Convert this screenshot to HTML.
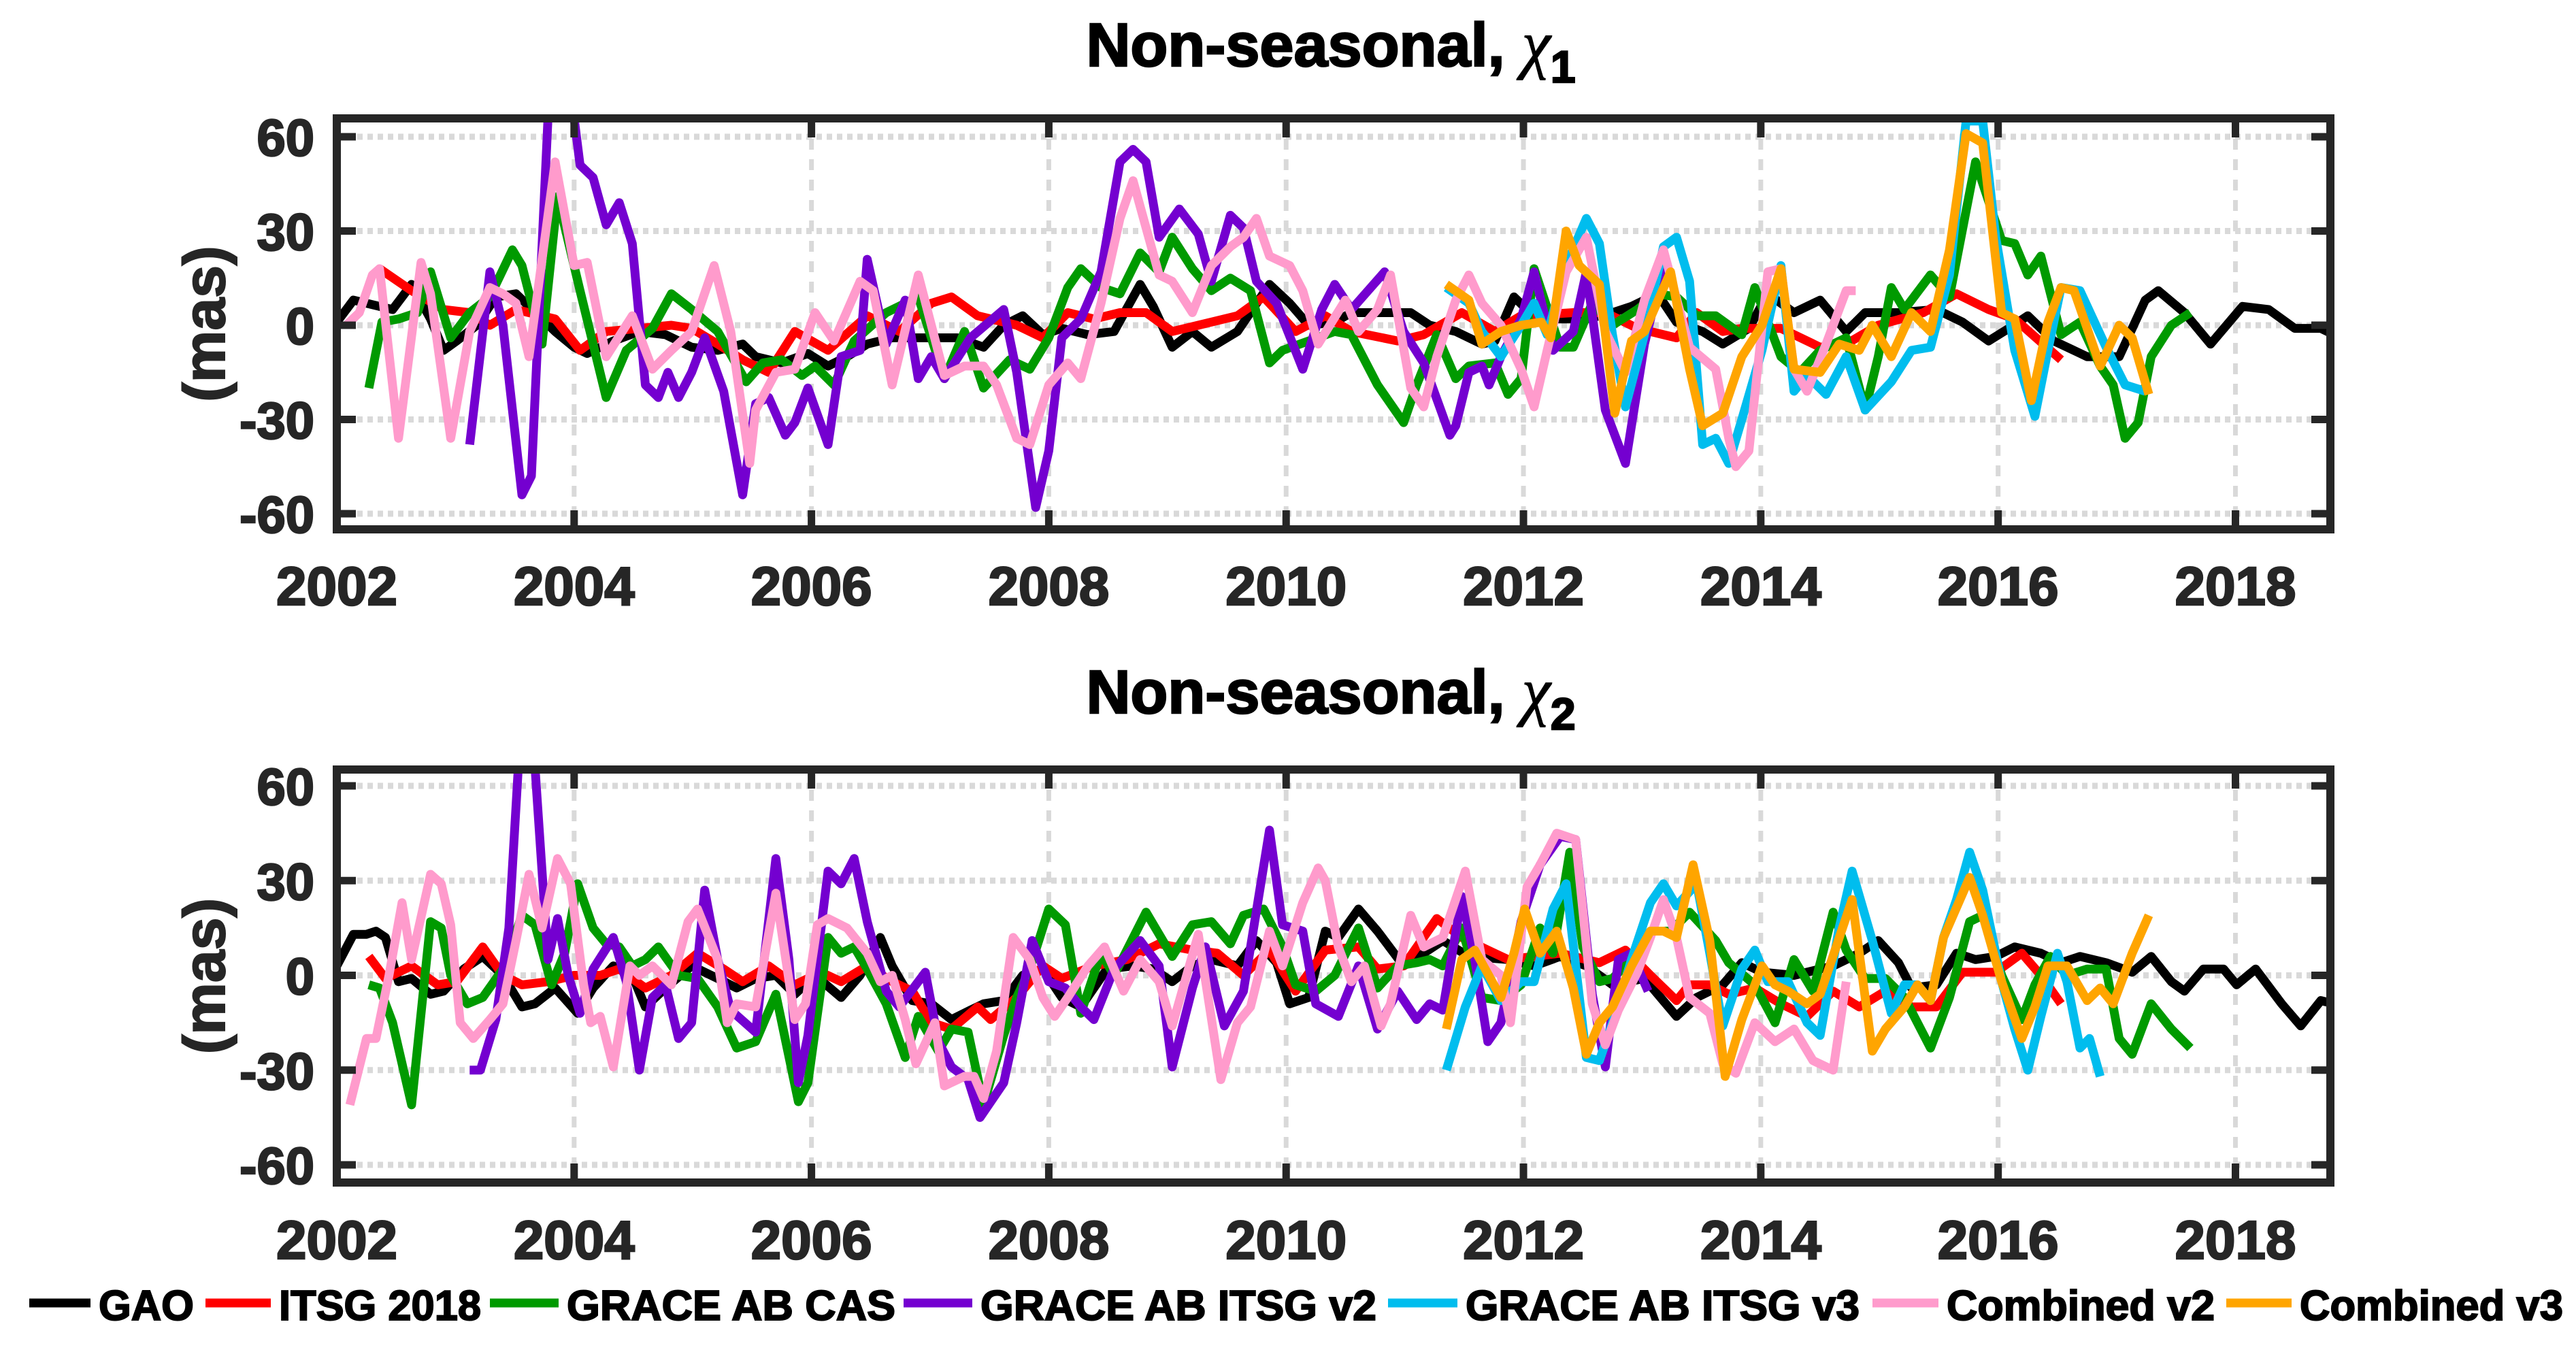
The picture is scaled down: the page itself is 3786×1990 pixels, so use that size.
<!DOCTYPE html>
<html><head><meta charset="utf-8"><style>
html,body{margin:0;padding:0;background:#fff;}
svg{display:block;font-family:"Liberation Sans",Arial,sans-serif;}
</style></head><body>
<svg id="fig" width="3786" height="1990" viewBox="0 0 3786 1990" xmlns="http://www.w3.org/2000/svg">
<defs>
<clipPath id="clip1"><rect x="495" y="174" width="2930" height="604"/></clipPath>
<clipPath id="clip2"><rect x="495" y="1131" width="2930" height="607"/></clipPath>
</defs>
<text x="1956" y="97" text-anchor="middle" font-size="90" font-weight="bold" fill="#000" stroke="#000" stroke-width="2.5">Non-seasonal, <tspan font-family="Liberation Serif" font-style="italic" font-weight="normal" font-size="96" stroke-width="1">χ</tspan><tspan font-size="66" dy="24">1</tspan></text>
<text x="1956" y="1048" text-anchor="middle" font-size="90" font-weight="bold" fill="#000" stroke="#000" stroke-width="2.5">Non-seasonal, <tspan font-family="Liberation Serif" font-style="italic" font-weight="normal" font-size="96" stroke-width="1">χ</tspan><tspan font-size="66" dy="24">2</tspan></text>
<g id="p1"></g>
<g id="p2"></g>
<g id="legend"></g>
</svg>
<script>
const xTicks = [2002,2004,2006,2008,2010,2012,2014,2016,2018];
const yTicks = [-60,-30,0,30,60];
const seriesNames = ["GAO","ITSG 2018","GRACE AB CAS","GRACE AB ITSG v2","GRACE AB ITSG v3","Combined v2","Combined v3"];
const seriesColors = ["#000000","#ff0000","#009a00","#7400d0","#00bdee","#ff9bcc","#ffa500"];

const gao1 = [[2002.0,1],[2002.14,8],[2002.47,5],[2002.63,13],[2002.79,2],[2002.9,-8],[2003.01,-5],[2003.18,0],[2003.34,9],[2003.51,10],[2003.73,2],[2003.84,-2],[2004.0,-7],[2004.11,-9],[2004.33,-5],[2004.55,-2],[2004.77,-3],[2004.99,-7],[2005.21,-8],[2005.42,-6],[2005.53,-10],[2005.75,-12],[2005.97,-9],[2006.14,-13],[2006.3,-10],[2006.47,-6],[2006.68,-4],[2006.96,-4],[2007.23,-4],[2007.45,-7],[2007.62,0],[2007.78,3],[2007.95,-3],[2008.11,-1],[2008.33,-3],[2008.55,-2],[2008.77,13],[2008.88,6],[2009.04,-7],[2009.21,-2],[2009.37,-7],[2009.59,-2],[2009.86,13],[2010.03,7],[2010.19,0],[2010.41,1],[2010.55,4],[2010.88,4],[2011.05,4],[2011.21,0],[2011.43,-2],[2011.65,-6],[2011.76,-5],[2011.92,9],[2012.03,5],[2012.2,2],[2012.42,2],[2012.53,2],[2012.75,4],[2012.91,6],[2013.13,10],[2013.29,1],[2013.51,-2],[2013.68,-6],[2013.9,-1],[2014.06,10],[2014.28,4],[2014.5,8],[2014.72,-2],[2014.88,4],[2015.16,4],[2015.48,5],[2015.7,1],[2015.92,-5],[2016.09,-1],[2016.25,3],[2016.47,-5],[2016.75,-10],[2017.02,-10],[2017.24,8],[2017.35,11],[2017.57,4],[2017.79,-6],[2018.06,6],[2018.28,5],[2018.5,-1],[2018.72,-1],[2018.83,-3]];
const itsg1 = [[2002.36,18],[2002.63,11],[2002.9,5],[2003.12,4],[2003.29,0],[2003.51,5],[2003.84,2],[2004.05,-8],[2004.27,-2],[2004.55,-1],[2004.82,0],[2004.99,-1],[2005.21,-6],[2005.42,-11],[2005.64,-15],[2005.86,-2],[2006.14,-8],[2006.47,3],[2006.74,-2],[2007.01,7],[2007.18,9],[2007.4,3],[2007.73,0],[2007.95,-4],[2008.16,4],[2008.38,2],[2008.6,4],[2008.82,4],[2009.04,-2],[2009.26,0],[2009.59,3],[2009.81,9],[2010.08,-2],[2010.33,3],[2010.55,-2],[2010.94,-5],[2011.16,-3],[2011.48,4],[2011.76,-2],[2011.98,3],[2012.42,4],[2012.69,4],[2012.96,-1],[2013.29,-4],[2013.46,4],[2013.68,-2],[2013.84,-1],[2014.17,-1],[2014.5,-7],[2014.72,-6],[2014.99,0],[2015.37,4],[2015.65,10],[2015.92,5],[2016.14,2],[2016.53,-11]];
const cas1 = [[2002.27,-20],[2002.38,1],[2002.52,2],[2002.68,4],[2002.79,17],[2002.96,-4],[2003.12,4],[2003.29,9],[2003.48,24],[2003.56,19],[2003.73,-6],[2003.86,41],[2004.05,11],[2004.27,-23],[2004.44,-8],[2004.66,-1],[2004.82,10],[2004.99,5],[2005.21,-2],[2005.45,-18],[2005.59,-12],[2005.75,-11],[2005.92,-16],[2006.03,-13],[2006.19,-19],[2006.36,-5],[2006.63,4],[2006.9,9],[2007.01,-4],[2007.12,-17],[2007.29,-2],[2007.45,-20],[2007.67,-11],[2007.84,-14],[2008.0,-4],[2008.16,12],[2008.27,18],[2008.44,12],[2008.6,10],[2008.77,23],[2008.93,17],[2009.04,28],[2009.21,18],[2009.37,11],[2009.53,15],[2009.7,11],[2009.86,-12],[2009.97,-8],[2010.19,-5],[2010.41,-2],[2010.55,-3],[2010.77,-19],[2010.99,-31],[2011.1,-19],[2011.27,-3],[2011.43,-17],[2011.54,-13],[2011.76,-12],[2011.87,-22],[2011.98,-17],[2012.09,18],[2012.31,-7],[2012.42,-7],[2012.58,7],[2012.75,0],[2012.96,5],[2013.13,10],[2013.29,9],[2013.46,3],[2013.62,3],[2013.84,-3],[2013.95,12],[2014.17,-10],[2014.33,-15],[2014.5,-8],[2014.72,-4],[2014.88,-27],[2014.99,-10],[2015.1,12],[2015.21,5],[2015.43,16],[2015.59,9],[2015.81,52],[2016.03,27],[2016.14,26],[2016.25,16],[2016.36,22],[2016.53,-3],[2016.69,1],[2016.86,-13],[2016.97,-19],[2017.07,-36],[2017.18,-31],[2017.29,-10],[2017.46,0],[2017.62,4]];
const v2a1 = [[2003.12,-38],[2003.29,17],[2003.4,0],[2003.56,-54],[2003.64,-48],[2003.78,66],[2004.0,66],[2004.05,51],[2004.16,47],[2004.27,32],[2004.38,39],[2004.49,26],[2004.6,-19],[2004.71,-23],[2004.79,-15],[2004.88,-23],[2004.99,-15],[2005.1,-4],[2005.26,-21],[2005.42,-54],[2005.53,-25],[2005.64,-23],[2005.78,-35],[2005.86,-31],[2005.97,-20],[2006.14,-38],[2006.25,-10],[2006.41,-8],[2006.47,21],[2006.63,-6],[2006.79,8],[2006.9,-17],[2007.01,-10],[2007.12,-17],[2007.34,-4],[2007.62,5],[2007.73,-15],[2007.89,-58],[2008.0,-40],[2008.11,-4],[2008.27,2],[2008.44,17],[2008.6,52],[2008.71,56],[2008.82,52],[2008.93,28],[2009.1,37],[2009.26,29],[2009.37,14],[2009.53,35],[2009.64,31],[2009.75,14],[2009.92,7],[2010.14,-14],[2010.3,5],[2010.41,13],[2010.55,5],[2010.83,17],[2010.99,-2],[2011.16,-12],[2011.38,-35],[2011.43,-32],[2011.54,-15],[2011.65,-13],[2011.71,-19],[2011.81,-10],[2011.98,2],[2012.09,17],[2012.25,-8],[2012.42,-2],[2012.53,17],[2012.69,-27],[2012.86,-44],[2013.02,-6],[2013.18,19]];
const v3a1 = [[2011.35,12],[2011.54,7],[2011.65,-2],[2011.81,-10],[2011.98,0],[2012.09,7],[2012.2,-3],[2012.36,19],[2012.53,34],[2012.64,26],[2012.75,-3],[2012.86,-26],[2013.02,-3],[2013.18,25],[2013.29,28],[2013.4,14],[2013.51,-38],[2013.62,-36],[2013.73,-44],[2013.84,-30],[2014.01,-8],[2014.17,19],[2014.28,-21],[2014.39,-16],[2014.55,-22],[2014.72,-10],[2014.88,-27],[2015.1,-18],[2015.27,-8],[2015.43,-7],[2015.59,16],[2015.73,65],[2015.87,65],[2015.98,28],[2016.14,-8],[2016.31,-29],[2016.42,-8],[2016.53,12],[2016.69,11],[2016.91,-7],[2017.07,-19],[2017.24,-21]];
const cmb2a1 = [[2002.08,0],[2002.19,4],[2002.3,16],[2002.36,18],[2002.52,-36],[2002.71,20],[2002.79,10],[2002.96,-36],[2003.12,-2],[2003.29,12],[2003.4,10],[2003.51,7],[2003.62,-10],[2003.84,52],[2004.0,19],[2004.11,20],[2004.27,-10],[2004.49,3],[2004.66,-14],[2004.82,-8],[2004.99,-2],[2005.18,19],[2005.32,-2],[2005.48,-44],[2005.53,-27],[2005.7,-15],[2005.86,-14],[2006.03,4],[2006.19,-5],[2006.41,14],[2006.52,11],[2006.68,-19],[2006.9,16],[2007.01,0],[2007.12,-16],[2007.29,-13],[2007.45,-13],[2007.56,-19],[2007.73,-36],[2007.84,-38],[2008.0,-19],[2008.16,-12],[2008.27,-17],[2008.44,7],[2008.6,34],[2008.71,46],[2008.82,31],[2008.93,16],[2009.04,14],[2009.21,4],[2009.37,19],[2009.53,25],[2009.64,28],[2009.75,34],[2009.86,22],[2010.03,19],[2010.14,11],[2010.27,-6],[2010.5,8],[2010.61,-2],[2010.77,5],[2010.88,16],[2011.05,-20],[2011.16,-26],[2011.27,-10],[2011.43,8],[2011.54,16],[2011.65,7],[2011.81,0],[2011.98,-14],[2012.09,-26],[2012.2,-8],[2012.36,17],[2012.53,28],[2012.69,-2],[2012.86,-15],[2013.02,8],[2013.18,24],[2013.4,-7],[2013.62,-14],[2013.73,-36],[2013.79,-45],[2013.9,-40],[2014.06,17],[2014.17,18],[2014.28,-14],[2014.39,-21],[2014.55,-6],[2014.72,11],[2014.8,11]];
const cmb3a1 = [[2011.35,13],[2011.54,8],[2011.65,-6],[2011.81,-2],[2011.98,0],[2012.15,1],[2012.23,-4],[2012.36,30],[2012.47,19],[2012.64,13],[2012.77,-28],[2012.91,-5],[2013.02,-2],[2013.24,17],[2013.4,-14],[2013.51,-32],[2013.68,-28],[2013.84,-10],[2014.01,0],[2014.17,18],[2014.28,-14],[2014.5,-15],[2014.66,-6],[2014.83,-8],[2014.94,0],[2015.1,-10],[2015.27,4],[2015.43,-2],[2015.59,24],[2015.73,61],[2015.87,58],[2016.03,4],[2016.14,2],[2016.28,-24],[2016.42,1],[2016.53,12],[2016.64,11],[2016.86,-13],[2017.02,0],[2017.13,-4],[2017.27,-22]];

const gao2 = [[2002.0,3],[2002.14,13],[2002.25,13],[2002.33,14],[2002.41,12],[2002.52,-2],[2002.63,-1],[2002.79,-6],[2002.9,-5],[2003.07,2],[2003.23,6],[2003.4,0],[2003.56,-10],[2003.67,-9],[2003.84,-4],[2004.03,-12],[2004.16,-4],[2004.33,3],[2004.49,0],[2004.6,-10],[2004.77,-4],[2004.99,3],[2005.21,-1],[2005.37,-4],[2005.53,-1],[2005.7,0],[2005.86,-6],[2006.03,0],[2006.25,-7],[2006.41,0],[2006.58,12],[2006.68,3],[2006.85,-8],[2007.01,-9],[2007.18,-14],[2007.34,-11],[2007.45,-9],[2007.62,-8],[2007.78,0],[2007.95,2],[2008.11,-7],[2008.27,-10],[2008.49,2],[2008.71,3],[2008.88,2],[2009.04,-2],[2009.21,3],[2009.37,5],[2009.59,3],[2009.75,11],[2009.92,4],[2010.03,-9],[2010.19,-7],[2010.33,14],[2010.44,12],[2010.61,21],[2010.77,14],[2010.99,3],[2011.16,7],[2011.32,11],[2011.54,6],[2011.87,5],[2012.09,3],[2012.31,6],[2012.53,3],[2012.75,-3],[2013.02,-1],[2013.29,-13],[2013.46,-7],[2013.68,-3],[2013.84,4],[2014.01,1],[2014.28,0],[2014.61,3],[2014.83,7],[2014.99,11],[2015.16,4],[2015.27,-4],[2015.48,-3],[2015.65,7],[2015.81,5],[2015.98,6],[2016.14,9],[2016.36,7],[2016.53,4],[2016.69,6],[2016.91,4],[2017.13,1],[2017.29,6],[2017.46,-2],[2017.57,-5],[2017.73,2],[2017.9,2],[2018.01,-3],[2018.17,2],[2018.39,-9],[2018.55,-16],[2018.72,-8],[2018.83,-9]];
const itsg2 = [[2002.27,6],[2002.41,-1],[2002.63,3],[2002.85,-3],[2003.01,-2],[2003.23,9],[2003.4,0],[2003.56,-3],[2003.78,-2],[2004.0,0],[2004.22,0],[2004.38,2],[2004.6,-4],[2004.82,0],[2005.04,7],[2005.26,2],[2005.42,-2],[2005.64,3],[2005.86,-3],[2006.08,1],[2006.25,-2],[2006.47,3],[2006.68,-2],[2006.85,-5],[2007.01,-15],[2007.18,-17],[2007.4,-10],[2007.51,-14],[2007.73,-7],[2007.95,3],[2008.11,-1],[2008.38,3],[2008.66,5],[2008.93,10],[2009.21,8],[2009.42,7],[2009.64,0],[2009.86,8],[2010.08,-5],[2010.33,8],[2010.61,9],[2010.77,2],[2010.99,3],[2011.27,18],[2011.48,12],[2011.7,8],[2011.87,5],[2012.09,6],[2012.31,7],[2012.64,4],[2012.86,8],[2013.07,0],[2013.29,-8],[2013.4,-3],[2013.57,-3],[2013.73,-6],[2013.95,-4],[2014.17,-9],[2014.39,-13],[2014.61,-5],[2014.83,-10],[2015.05,-5],[2015.27,-10],[2015.48,-10],[2015.7,1],[2015.98,1],[2016.2,7],[2016.36,0],[2016.53,-9]];
const cas2 = [[2002.27,-3],[2002.36,-4],[2002.47,-15],[2002.63,-41],[2002.79,17],[2002.88,15],[2002.96,0],[2003.1,-9],[2003.23,-7],[2003.4,2],[2003.56,19],[2003.67,16],[2003.81,-3],[2003.92,7],[2004.03,29],[2004.16,15],[2004.27,10],[2004.38,9],[2004.49,3],[2004.6,5],[2004.71,9],[2004.88,0],[2005.04,-1],[2005.21,-10],[2005.37,-23],[2005.53,-21],[2005.7,-6],[2005.89,-40],[2005.97,-34],[2006.14,12],[2006.25,7],[2006.36,9],[2006.47,2],[2006.63,-9],[2006.79,-26],[2006.9,-13],[2007.07,-24],[2007.18,-17],[2007.32,-18],[2007.45,-41],[2007.62,-19],[2007.73,-7],[2007.84,2],[2008.0,21],[2008.14,16],[2008.27,-12],[2008.44,7],[2008.55,0],[2008.82,20],[2009.04,6],[2009.21,16],[2009.37,17],[2009.53,10],[2009.64,19],[2009.81,21],[2009.97,9],[2010.08,-3],[2010.25,-5],[2010.41,0],[2010.61,15],[2010.77,-4],[2010.94,3],[2011.1,4],[2011.21,5],[2011.32,3],[2011.48,15],[2011.65,-7],[2011.81,-8],[2011.98,-3],[2012.14,15],[2012.25,7],[2012.39,39],[2012.5,9],[2012.64,-2],[2012.75,-1],[2012.91,5],[2013.07,14],[2013.24,14],[2013.4,20],[2013.62,11],[2013.73,4],[2013.95,-3],[2014.12,-15],[2014.28,5],[2014.44,-5],[2014.61,20],[2014.72,8],[2014.88,-1],[2015.05,-1],[2015.21,-7],[2015.43,-23],[2015.59,-7],[2015.76,17],[2015.87,19],[2016.03,0],[2016.2,-14],[2016.31,-3],[2016.44,6],[2016.58,0],[2016.75,2],[2016.91,2],[2017.02,-20],[2017.13,-25],[2017.29,-9],[2017.46,-17],[2017.62,-23]];
const v2a2 = [[2003.12,-30],[2003.21,-30],[2003.34,-14],[2003.45,15],[2003.53,66],[2003.67,66],[2003.78,5],[2003.86,18],[2003.95,0],[2004.05,-12],[2004.16,2],[2004.33,12],[2004.44,-2],[2004.55,-30],[2004.66,-7],[2004.77,-3],[2004.88,-20],[2004.99,-15],[2005.1,27],[2005.21,5],[2005.32,-11],[2005.53,-18],[2005.7,37],[2005.81,5],[2005.89,-34],[2005.97,-19],[2006.14,33],[2006.25,29],[2006.36,37],[2006.47,17],[2006.63,-5],[2006.74,-10],[2006.96,1],[2007.07,-21],[2007.18,-29],[2007.32,-33],[2007.42,-45],[2007.62,-34],[2007.73,-15],[2007.86,11],[2008.0,-2],[2008.14,-4],[2008.27,-10],[2008.38,-14],[2008.55,2],[2008.77,11],[2008.93,3],[2009.04,-29],[2009.21,-4],[2009.32,9],[2009.48,-16],[2009.64,-5],[2009.86,46],[2009.97,16],[2010.14,14],[2010.25,-9],[2010.44,-13],[2010.61,3],[2010.77,-17],[2010.94,-5],[2011.1,-14],[2011.21,-9],[2011.32,-11],[2011.48,25],[2011.59,5],[2011.7,-21],[2011.81,-15],[2011.98,17],[2012.14,35],[2012.31,44],[2012.44,43],[2012.58,-6],[2012.69,-29],[2012.8,5],[2012.91,7],[2013.05,-5]];
const v3a2 = [[2011.35,-30],[2011.51,-10],[2011.65,3],[2011.81,-8],[2011.98,-2],[2012.09,-2],[2012.25,21],[2012.36,29],[2012.53,-26],[2012.64,-27],[2012.75,-15],[2012.91,5],[2013.07,23],[2013.18,29],[2013.29,22],[2013.46,29],[2013.57,7],[2013.68,-16],[2013.84,2],[2013.95,8],[2014.06,-2],[2014.23,-2],[2014.39,-15],[2014.5,-19],[2014.66,15],[2014.77,33],[2014.94,11],[2015.1,-12],[2015.21,-3],[2015.32,-3],[2015.43,-8],[2015.54,12],[2015.65,24],[2015.76,39],[2015.87,27],[2016.03,-2],[2016.14,-17],[2016.25,-30],[2016.36,-13],[2016.5,7],[2016.58,-2],[2016.69,-23],[2016.77,-20],[2016.86,-32]];
const cmb2a2 = [[2002.11,-41],[2002.25,-20],[2002.33,-20],[2002.44,0],[2002.55,23],[2002.63,5],[2002.79,32],[2002.88,29],[2002.96,16],[2003.04,-15],[2003.15,-20],[2003.29,-14],[2003.4,-9],[2003.51,11],[2003.62,32],[2003.73,15],[2003.86,37],[2003.97,29],[2004.08,-3],[2004.14,-15],[2004.22,-13],[2004.33,-29],[2004.47,3],[2004.55,0],[2004.66,3],[2004.82,-3],[2004.96,17],[2005.04,21],[2005.21,5],[2005.29,-15],[2005.37,-9],[2005.53,-10],[2005.7,26],[2005.86,-14],[2005.95,-9],[2006.05,16],[2006.14,18],[2006.3,15],[2006.47,7],[2006.58,-2],[2006.68,0],[2006.79,-14],[2006.88,-28],[2007.04,-15],[2007.12,-35],[2007.29,-32],[2007.37,-32],[2007.45,-39],[2007.56,-24],[2007.7,12],[2007.84,5],[2007.95,-7],[2008.05,-13],[2008.16,-7],[2008.33,3],[2008.47,9],[2008.63,-5],[2008.77,5],[2008.93,-2],[2009.04,-16],[2009.26,13],[2009.45,-33],[2009.59,-15],[2009.7,-10],[2009.86,14],[2009.97,3],[2010.14,23],[2010.27,34],[2010.33,30],[2010.44,9],[2010.55,-2],[2010.66,3],[2010.8,-16],[2010.88,-9],[2011.05,19],[2011.16,9],[2011.32,12],[2011.51,33],[2011.65,5],[2011.81,0],[2011.89,-15],[2012.03,28],[2012.14,35],[2012.28,45],[2012.44,43],[2012.58,-9],[2012.69,-22],[2012.8,-11],[2012.96,1],[2013.07,12],[2013.18,24],[2013.29,12],[2013.4,-7],[2013.57,-12],[2013.68,-28],[2013.79,-31],[2013.95,-15],[2014.12,-21],[2014.28,-17],[2014.44,-27],[2014.61,-30],[2014.72,-2]];
const cmb3a2 = [[2011.35,-17],[2011.48,5],[2011.59,8],[2011.81,-7],[2011.92,7],[2012.01,21],[2012.14,7],[2012.28,14],[2012.42,-4],[2012.53,-25],[2012.64,-15],[2012.75,-10],[2012.91,3],[2013.07,14],[2013.18,14],[2013.29,12],[2013.43,35],[2013.57,11],[2013.7,-32],[2013.84,-14],[2014.01,3],[2014.12,-3],[2014.23,-5],[2014.39,-9],[2014.5,-6],[2014.77,24],[2014.94,-24],[2015.05,-17],[2015.21,-10],[2015.32,-3],[2015.43,-8],[2015.54,12],[2015.76,31],[2015.87,19],[2016.03,-2],[2016.2,-20],[2016.31,-10],[2016.42,3],[2016.58,3],[2016.75,-8],[2016.86,-4],[2016.97,-9],[2017.13,7],[2017.27,19]];

const panel1 = [gao1,itsg1,cas1,v2a1,v3a1,cmb2a1,cmb3a1];
const panel2 = [gao2,itsg2,cas2,v2a2,v3a2,cmb2a2,cmb3a2];
const seriesKeys = ["gao","itsg-2018","grace-ab-cas","grace-ab-itsg-v2","grace-ab-itsg-v3","combined-v2","combined-v3"];

const NS = "http://www.w3.org/2000/svg";
const X0 = 495, X1 = 3425, YR0 = 2002, YR1 = 2018.8;
function xs(t){ return X0 + (t - YR0) / (YR1 - YR0) * (X1 - X0); }
function mk(tag, attrs, parent){ const e = document.createElementNS(NS, tag); for (const k in attrs) e.setAttribute(k, attrs[k]); parent.appendChild(e); return e; }

function drawPanel(g, top, bottom, y60, yM60, data, clipId, labelY, pname){
  const ys = v => y60 + (60 - v) / 120 * (yM60 - y60);
  mk('rect', {x:X0, y:top, width:X1-X0, height:bottom-top, fill:'#fff'}, g);
  for (const t of xTicks){
    const l = mk('line', {x1:xs(t), x2:xs(t), y1:top, y2:bottom, stroke:'#d9d9d9', 'stroke-width':7, 'stroke-dasharray':'16 14'}, g);
    
    
  }
  for (const v of yTicks){
    const l = mk('line', {x1:X0, x2:X1, y1:ys(v), y2:ys(v), stroke:'#d9d9d9', 'stroke-width':9, 'stroke-dasharray':'8 7'}, g);
    
    
  }
  const sg = mk('g', {'clip-path':'url(#' + clipId + ')'}, g);
  data.forEach((s, i) => {
    const d = s.map((p, j) => (j ? 'L' : 'M') + xs(p[0]).toFixed(1) + ',' + ys(p[1]).toFixed(1)).join('');
    const path = mk('path', {d:d, fill:'none', stroke:seriesColors[i], 'stroke-width':13, 'stroke-linejoin':'round', 'stroke-linecap':'butt'}, sg);
    
    
  });
  const box = mk('rect', {x:X0, y:top, width:X1-X0, height:bottom-top, fill:'none', stroke:'#262626', 'stroke-width':12}, g);
  
  
  for (const t of xTicks){
    mk('line', {x1:xs(t), x2:xs(t), y1:bottom, y2:bottom-28, stroke:'#262626', 'stroke-width':11}, g);
    mk('line', {x1:xs(t), x2:xs(t), y1:top, y2:top+28, stroke:'#262626', 'stroke-width':11}, g);
    const tx = mk('text', {x:xs(t), y:labelY, 'text-anchor':'middle', 'font-size':80, 'font-weight':'bold', fill:'#262626', stroke:'#262626', 'stroke-width':2.5}, g);
    tx.textContent = t;
    
    
  }
  for (const v of yTicks){
    mk('line', {x1:X0, x2:X0+28, y1:ys(v), y2:ys(v), stroke:'#262626', 'stroke-width':11}, g);
    mk('line', {x1:X1, x2:X1-28, y1:ys(v), y2:ys(v), stroke:'#262626', 'stroke-width':11}, g);
    const tx = mk('text', {x:462, y:ys(v)+28, 'text-anchor':'end', 'font-size':76, 'font-weight':'bold', fill:'#262626', stroke:'#262626', 'stroke-width':2.5}, g);
    tx.textContent = v;
    
    
  }
  const cy = (top + bottom) / 2;
  const yl = mk('text', {x:0, y:0, transform:'translate(330,' + cy + ') rotate(-90)', 'text-anchor':'middle', 'font-size':86, 'font-weight':'bold', fill:'#262626', stroke:'#262626', 'stroke-width':2}, g);
  yl.textContent = '(mas)';
  
  
}

drawPanel(document.getElementById('p1'), 174, 778, 201, 755, panel1, 'clip1', 889, 'chi1');
drawPanel(document.getElementById('p2'), 1131, 1738, 1155, 1712, panel2, 'clip2', 1850, 'chi2');

const lg = document.getElementById('legend');
const legLine = [[43,133],[302,398],[720,821],[1328,1429],[2040,2142],[2752,2849],[3272,3368]];
const legText = [[145,285],[410,707],[833,1316],[1441,2023],[2154,2733],[2861,3255],[3380,3767]];
seriesNames.forEach((n, i) => {
  const eg = mk('g', {}, lg);
  
  
  mk('line', {x1:legLine[i][0], x2:legLine[i][1], y1:1915, y2:1915, stroke:seriesColors[i], 'stroke-width':13}, eg);
  const t = mk('text', {x:legText[i][0], y:1940, 'font-size':62, 'font-weight':'bold', fill:'#000', stroke:'#000', 'stroke-width':2, textLength:legText[i][1]-legText[i][0], lengthAdjust:'spacingAndGlyphs'}, eg);
  t.textContent = n;
});
</script>
</body></html>
